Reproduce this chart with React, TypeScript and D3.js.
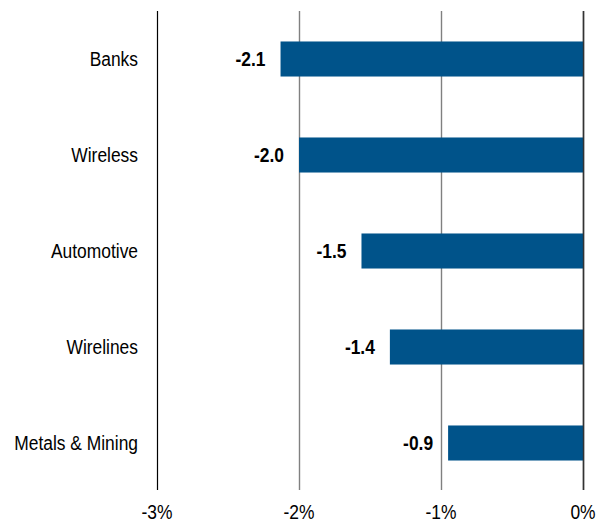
import React, { useEffect, useRef } from 'react';
import * as d3 from 'd3';

const categories = ['Banks', 'Wireless', 'Automotive', 'Wirelines', 'Metals & Mining'];
const values = [-2.13, -2.0, -1.56, -1.36, -0.95];
const valueLabels = ['-2.1', '-2.0', '-1.5', '-1.4', '-0.9'];
const ticks = [-3, -2, -1, 0];
const tickLabels = ['-3%', '-2%', '-1%', '0%'];

const FONT = '"Liberation Sans", Arial, sans-serif';
const SQUEEZE = 0.87; // imitates a narrow face

const App = () => {
  const svgRef = useRef<SVGSVGElement>(null);

  useEffect(() => {
    const width = 616;
    const height = 524;
    const svg = d3.select(svgRef.current);
    svg.selectAll('*').remove();

    const x = d3.scaleLinear().domain([-3, 0]).range([157, 583]);
    const y = d3.scaleBand()
      .domain(categories)
      .range([11, 491])
      .paddingInner(0.635)
      .paddingOuter(0.3175);

    // vertical grid lines
    svg.selectAll('.grid')
      .data(ticks)
      .enter().append('line')
      .attr('x1', d => Math.round(x(d)) + 0.5)
      .attr('x2', d => Math.round(x(d)) + 0.5)
      .attr('y1', 11)
      .attr('y2', 490)
      .attr('stroke', d => (d === -3 ? '#000' : d === 0 ? '#333' : '#808080'))
      .attr('stroke-width', d => (d === -3 ? 1.2 : 1.4));

    // bars
    svg.selectAll('.bar')
      .data(values)
      .enter().append('rect')
      .attr('x', d => x(d))
      .attr('y', (d, i) => y(categories[i])!)
      .attr('width', d => x(0) - x(d))
      .attr('height', y.bandwidth())
      .attr('fill', '#00538A');

    // zero line on top of the bars
    svg.append('line')
      .attr('x1', Math.round(x(0)) + 0.5)
      .attr('x2', Math.round(x(0)) + 0.5)
      .attr('y1', 11)
      .attr('y2', 490)
      .attr('stroke', '#333')
      .attr('stroke-width', 1.4);

    const label = (tx: number, ty: number, txt: string, anchor: string, bold = false) => {
      svg.append('g')
        .attr('transform', `translate(${tx},${ty}) scale(${SQUEEZE},1)`)
        .append('text')
        .attr('text-anchor', anchor)
        .attr('font-family', FONT)
        .attr('font-weight', bold ? 'bold' : 'normal')
        .attr('font-size', 20)
        .attr('fill', '#000')
        .text(txt);
    };

    // value labels
    values.forEach((d, i) => {
      label(x(d) - 15, y(categories[i])! + y.bandwidth() / 2 + 7, valueLabels[i], 'end', true);
    });

    // category labels
    categories.forEach(c => {
      label(138, y(c)! + y.bandwidth() / 2 + 7, c, 'end');
    });

    // x tick labels
    ticks.forEach((t, i) => {
      label(x(t), 519, tickLabels[i], 'middle');
    });

    svg.attr('width', width).attr('height', height);
  }, []);

  return (
    <svg
      ref={svgRef}
      width={616}
      height={524}
      style={{ position: 'absolute', left: 0, top: 0, background: '#fff' }}
    ></svg>
  );
};

export default App;
